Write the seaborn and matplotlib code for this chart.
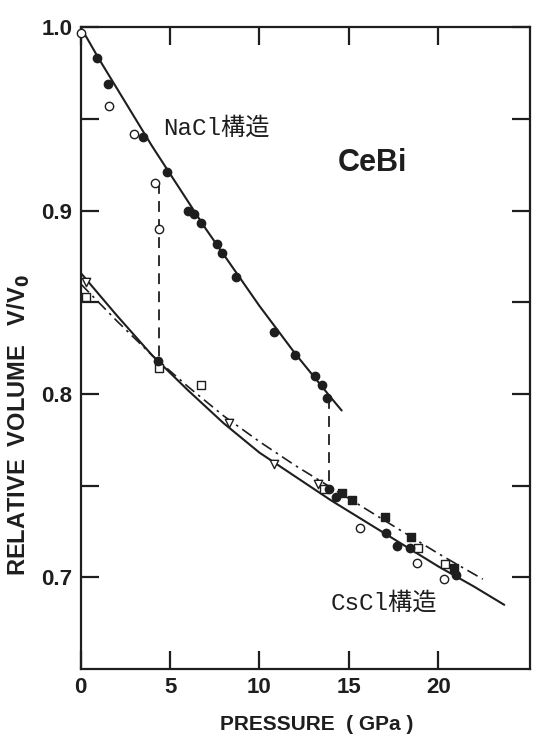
import matplotlib
matplotlib.use("Agg")
import matplotlib.pyplot as plt
from matplotlib.ticker import FixedLocator
import seaborn as sns

# NaCl-type phase
nacl_filled_p = [0.9, 1.5, 3.5, 4.8, 6.0, 6.35, 6.75, 7.6, 7.9, 8.7, 10.8, 12.0, 13.1, 13.5, 13.8]
nacl_filled_v = [0.983, 0.969, 0.940, 0.921, 0.900, 0.898, 0.893, 0.882, 0.877, 0.864, 0.834, 0.821, 0.810, 0.805, 0.798]
nacl_open_p = [0.0, 1.6, 3.0, 4.15, 4.4]
nacl_open_v = [0.997, 0.957, 0.942, 0.915, 0.890]
nacl_fit_p = [0, 1, 2, 3, 4, 5, 6, 7, 8, 9, 10, 11, 12, 13, 14, 14.6]
nacl_fit_v = [1.000, 0.983, 0.967, 0.951, 0.935, 0.920, 0.905, 0.890, 0.876,
              0.862, 0.848, 0.835, 0.822, 0.810, 0.798, 0.791]

# CsCl-type phase
cscl_osq_p = [0.3, 4.4, 6.7, 13.6, 18.9, 20.4]
cscl_osq_v = [0.853, 0.814, 0.805, 0.748, 0.716, 0.707]
cscl_fsq_p = [14.6, 15.2, 17.0, 18.5, 20.9]
cscl_fsq_v = [0.746, 0.742, 0.733, 0.722, 0.705]
cscl_tri_p = [0.3, 8.3, 10.8, 13.3]
cscl_tri_v = [0.861, 0.784, 0.762, 0.751]
cscl_fci_p = [4.3, 13.9, 14.3, 17.1, 17.7, 18.4, 21.0]
cscl_fci_v = [0.818, 0.748, 0.744, 0.724, 0.717, 0.716, 0.701]
cscl_oci_p = [15.6, 18.8, 20.3]
cscl_oci_v = [0.727, 0.708, 0.699]
cscl_fit_p = [0, 2, 4, 6, 8, 10, 12, 14, 16, 18, 20, 22, 23.7]
cscl_fit_v = [0.866, 0.843, 0.821, 0.802, 0.784, 0.768, 0.755, 0.742, 0.730,
              0.718, 0.706, 0.695, 0.685]
cscl_fit2_p = [0, 2, 4, 6, 8, 10, 12, 14, 16, 18, 20, 22.5]
cscl_fit2_v = [0.860, 0.840, 0.821, 0.804, 0.788, 0.774, 0.761, 0.749, 0.737,
               0.725, 0.713, 0.699]

# transitions (dashed verticals)
trans_up_p = [4.4, 4.4]
trans_up_v = [0.915, 0.818]
trans_dn_p = [13.9, 13.9]
trans_dn_v = [0.798, 0.748]

x_ticks = [0, 5, 10, 15, 20]
y_major = [0.7, 0.8, 0.9, 1.0]
y_minor = [0.75, 0.85, 0.95]

sns.set_style("ticks")
plt.rcParams.update({
    "font.family": ["Liberation Sans", "DejaVu Sans"],
    "mathtext.default": "bf",
    "axes.linewidth": 1.6,
})

ink = "#1e1e1e"
fig, ax = plt.subplots(figsize=(5.46, 7.38), dpi=100)
fig.subplots_adjust(left=0.148, right=0.971, top=0.963, bottom=0.0935)

# fitted curves
sns.lineplot(x=nacl_fit_p, y=nacl_fit_v, ax=ax, color=ink, lw=1.5, sort=False, estimator=None)
sns.lineplot(x=cscl_fit_p, y=cscl_fit_v, ax=ax, color=ink, lw=1.5, sort=False, estimator=None)
sns.lineplot(x=cscl_fit2_p, y=cscl_fit2_v, ax=ax, color=ink, lw=1.2, sort=False,
             estimator=None, dashes=False, linestyle=(0, (7, 3, 1.5, 3)))
for xs, ys in [(trans_up_p, trans_up_v), (trans_dn_p, trans_dn_v)]:
    sns.lineplot(x=xs, y=ys, ax=ax, color=ink, lw=1.3, sort=False,
                 estimator=None, linestyle=(0, (6, 4)))

# data points
pts = dict(ax=ax, s=36, linewidth=1.0, edgecolor=ink, zorder=5, clip_on=False)
sns.scatterplot(x=nacl_filled_p, y=nacl_filled_v, marker="o", color=ink, **pts)
sns.scatterplot(x=nacl_open_p, y=nacl_open_v, marker="o", facecolor="white", **pts)
sns.scatterplot(x=cscl_osq_p, y=cscl_osq_v, marker="s", facecolor="white", **pts)
sns.scatterplot(x=cscl_fsq_p, y=cscl_fsq_v, marker="s", color=ink, **pts)
sns.scatterplot(x=cscl_tri_p, y=cscl_tri_v, marker="v", facecolor="white", **pts)
sns.scatterplot(x=cscl_fci_p, y=cscl_fci_v, marker="o", color=ink, **pts)
sns.scatterplot(x=cscl_oci_p, y=cscl_oci_v, marker="o", facecolor="white", **pts)

ax.set_xlim(0, 25.15)
ax.set_ylim(0.65, 1.0)
ax.set_xticks(x_ticks)
ax.set_yticks(y_major)
ax.yaxis.set_minor_locator(FixedLocator(y_minor))
ax.set_yticklabels([f"{v:.1f}" for v in y_major])
ax.tick_params(which="both", direction="in", length=13, width=1.6, color=ink,
               top=True, right=True, labelsize=16, labelcolor=ink, pad=6)
for lab in ax.get_xticklabels() + ax.get_yticklabels():
    lab.set_fontweight("bold")
for sp in ax.spines.values():
    sp.set_visible(True)
    sp.set_color(ink)

ax.set_xlabel("PRESSURE  ( GPa )", fontsize=15, fontweight="bold", color=ink, va="center")
ax.set_ylabel("RELATIVE  VOLUME   V/V$_0$", fontsize=17, fontweight="bold", color=ink, va="center")
ax.xaxis.set_label_coords(0.526, -0.087)
ax.yaxis.set_label_coords(-0.137, 0.38)

mono_cjk = ["Liberation Mono", "Noto Sans CJK JP"]
ax.text(4.6, 0.945, "NaCl構造", fontsize=17.5, family=mono_cjk, color=ink, va="center", ha="left")
ax.text(14.0, 0.686, "CsCl構造", fontsize=17.5, family=mono_cjk, color=ink, va="center", ha="left")
ax.text(16.3, 0.926, "CeBi", fontsize=22, fontweight="bold", color=ink, va="center", ha="center")

fig.savefig("out.png", dpi=100, facecolor="white")
